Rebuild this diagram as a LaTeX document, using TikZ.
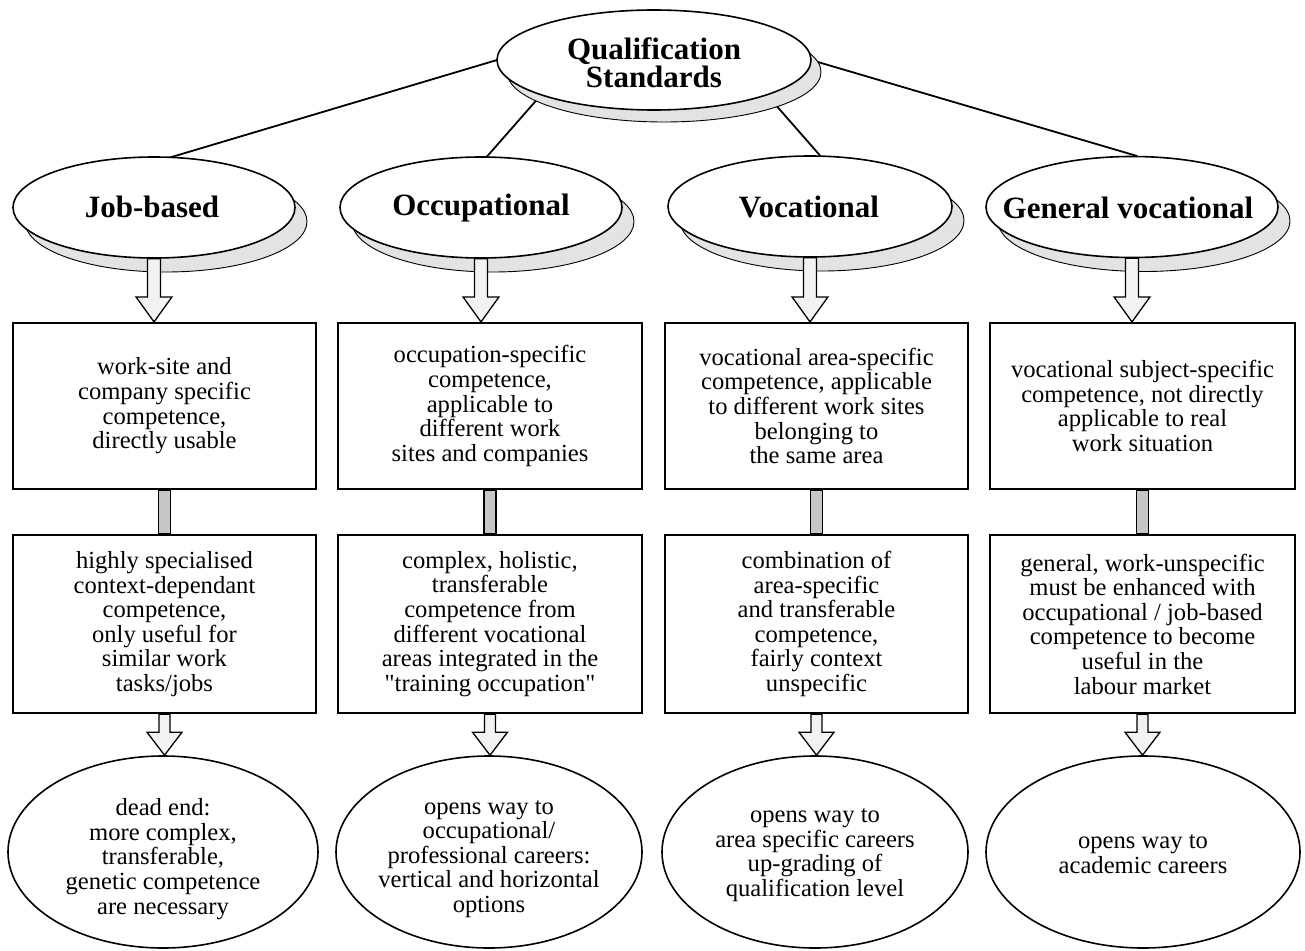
\documentclass[tikz,border=0pt]{standalone}
\usepackage{fontspec}
\setmainfont{Liberation Serif}
\usetikzlibrary{shapes.geometric,calc}

\tikzset{
  body/.style={font=\fontsize{24.6}{24.6}\selectfont},
  head/.style={font=\bfseries\fontsize{31}{28}\selectfont},
  oval/.style={ellipse, draw, line width=1.6pt, fill=white, inner sep=0pt},
  ovalshadow/.style={ellipse, draw, line width=0.9pt, fill=gray!22, inner sep=0pt},
  card/.style={rectangle, draw, line width=2.2pt, fill=white, inner sep=0pt},
  txt/.style={body, align=center, inner sep=0pt},
  caption/.style={head, align=center, inner sep=0pt, anchor=base},
  link/.style={line width=1.8pt},
  bar/.style={draw, line width=1.3pt, fill=gray!45},
  hollow/.style={draw, line width=1.3pt, fill=gray!10, line join=miter},
}

% hollow block arrow pointing down from node #1 to node #2
% #3 half shaft width, #4 half head width, #5 head length
\newcommand\blockdown[5]{%
  \path[hollow] let \p1=(#1), \p2=(#2) in
    ({\x1-#3pt},{\y1}) -- ({\x1-#3pt},{\y2+#5pt}) -- ({\x1-#4pt},{\y2+#5pt})
    -- ({\x1},{\y2}) -- ({\x1+#4pt},{\y2+#5pt}) -- ({\x1+#3pt},{\y2+#5pt})
    -- ({\x1+#3pt},{\y1}) -- cycle;}

% grey bar joining two stacked boxes
\newcommand\joinbar[2]{%
  \path[bar] let \p1=(#1), \p2=(#2) in
    ({\x1-6pt},{\y1}) rectangle ({\x1+6pt},{\y2});}

\begin{document}
\begin{tikzpicture}[x=1pt,y=-1pt]
\fill[white] (0,0) rectangle (1305,950);
\useasboundingbox (0,0) rectangle (1305,950);

% ---- top and category ovals
\path
  (654,60)  coordinate (qsc)
  (154,207.5) coordinate (jbc)
  (481,207.5) coordinate (occ)
  (810,206.5) coordinate (vcc)
  (1132,207) coordinate (gvc);

% links from the top oval (drawn first, ovals cover their ends)
\draw[link] (qsc) ++(-157,0) coordinate (qsw) -- ($(jbc)+(16,-50)$) coordinate (jbt);
\draw[link] ($(qsc)+(-113,35)$) coordinate (qso) -- ($(occ)+(6,-51)$) coordinate (oct);
\draw[link] ($(qsc)+(113,35)$) coordinate (qsv) -- ($(vcc)+(10,-51)$) coordinate (vct);
\draw[link] ($(qsc)+(157,0)$) coordinate (qse) -- ($(gvc)+(5,-51)$) coordinate (gvt);

% shadows
\node[ovalshadow, minimum width=314, minimum height=100] (qs-sh) at ($(qsc)+(10,12)$) {};
\node[ovalshadow, minimum width=282, minimum height=101] (jb-sh) at ($(jbc)+(12,14)$) {};
\node[ovalshadow, minimum width=282, minimum height=101] (oc-sh) at ($(occ)+(12,14)$) {};
\node[ovalshadow, minimum width=284, minimum height=101] (vc-sh) at ($(vcc)+(12,14)$) {};
\node[ovalshadow, minimum width=292, minimum height=101] (gv-sh) at ($(gvc)+(12,14)$) {};

% main ovals
\node[oval, minimum width=314, minimum height=100] (qs) at (qsc) {};
\node[oval, minimum width=282, minimum height=101] (jb) at (jbc) {};
\node[oval, minimum width=282, minimum height=101] (oc) at (occ) {};
\node[oval, minimum width=284, minimum height=101] (vc) at (vcc) {};
\node[oval, minimum width=292, minimum height=101] (gv) at (gvc) {};

% oval captions
\node[caption] (qs-t) at (654,87) {Qualification\\Standards};
\node[caption] (jb-t) at (152,217) {Job-based};
\node[caption] (oc-t) at (481,215) {Occupational};
\node[caption] (vc-t) at (809,217) {Vocational};
\node[caption] (gv-t) at (1128,218) {General vocational};

% ---- first row of boxes
\node[card, minimum width=303, minimum height=166] (b1) at (164.5,406) {};
\node[card, minimum width=304, minimum height=166] (b2) at (490,406) {};
\node[card, minimum width=303, minimum height=166] (b3) at (816.5,406) {};
\node[card, minimum width=305, minimum height=166] (b4) at (1142.5,406) {};

\node[txt] (b1-t) at (b1) {work-site and\\company specific\\competence,\\directly usable};
\node[txt] (b2-t) at (b2) {occupation-specific\\competence,\\applicable to\\different work\\sites and companies};
\node[txt] (b3-t) at (b3) {vocational area-specific\\competence, applicable\\to different work sites\\belonging to\\the same area};
\node[txt] (b4-t) at (b4) {vocational subject-specific\\competence, not directly\\applicable to real\\work situation};

% ---- second row of boxes
\node[card, minimum width=303, minimum height=178] (c1) at (164.5,624) {};
\node[card, minimum width=304, minimum height=178] (c2) at (490,624) {};
\node[card, minimum width=303, minimum height=178] (c3) at (816.5,624) {};
\node[card, minimum width=305, minimum height=178] (c4) at (1142.5,624) {};

\node[txt] (c1-t) at (c1) {highly specialised\\context-dependant\\competence,\\only useful for\\similar work\\tasks/jobs};
\node[txt] (c2-t) at (c2) {complex, holistic,\\transferable\\competence from\\different vocational\\areas integrated in the\\\textquotedbl training occupation\textquotedbl};
\node[txt] (c3-t) at (c3) {combination of\\area-specific\\and transferable\\competence,\\fairly context\\unspecific};
\node[txt] (c4-t) at (c4) {general, work-unspecific\\must be enhanced with\\occupational / job-based\\competence to become\\useful in the\\labour market};

% ---- outcome ovals
\node[oval, minimum width=310, minimum height=192] (d1) at (163,852) {};
\node[oval, minimum width=306, minimum height=192] (d2) at (489,852) {};
\node[oval, minimum width=306, minimum height=192] (d3) at (815,852) {};
\node[oval, minimum width=314, minimum height=192] (d4) at (1143,852) {};

\node[txt] (d1-t) at (163,859) {dead end:\\more complex,\\transferable,\\genetic competence\\are necessary};
\node[txt] (d2-t) at (489,859) {opens way to\\occupational/\\professional careers:\\vertical and horizontal\\options};
\node[txt] (d3-t) at (815,855) {opens way to\\area specific careers\\up-grading of\\qualification level};
\node[txt] (d4-t) at (1143,854) {opens way to\\academic careers};

% ---- connectors
\blockdown{jb.south}{b1.north}{6.5}{18}{25}
\blockdown{oc.south}{b2.north}{6.5}{18}{25}
\blockdown{vc.south}{b3.north}{6.5}{18}{25}
\blockdown{gv.south}{b4.north}{6.5}{18}{25}

\joinbar{b1.south}{c1.north}
\joinbar{b2.south}{c2.north}
\joinbar{b3.south}{c3.north}
\joinbar{b4.south}{c4.north}

\blockdown{c1.south}{d1.north}{5.5}{17.5}{23}
\blockdown{c2.south}{d2.north}{5.5}{17.5}{23}
\blockdown{c3.south}{d3.north}{5.5}{17.5}{23}
\blockdown{c4.south}{d4.north}{5.5}{17.5}{23}
\end{tikzpicture}
\end{document}
